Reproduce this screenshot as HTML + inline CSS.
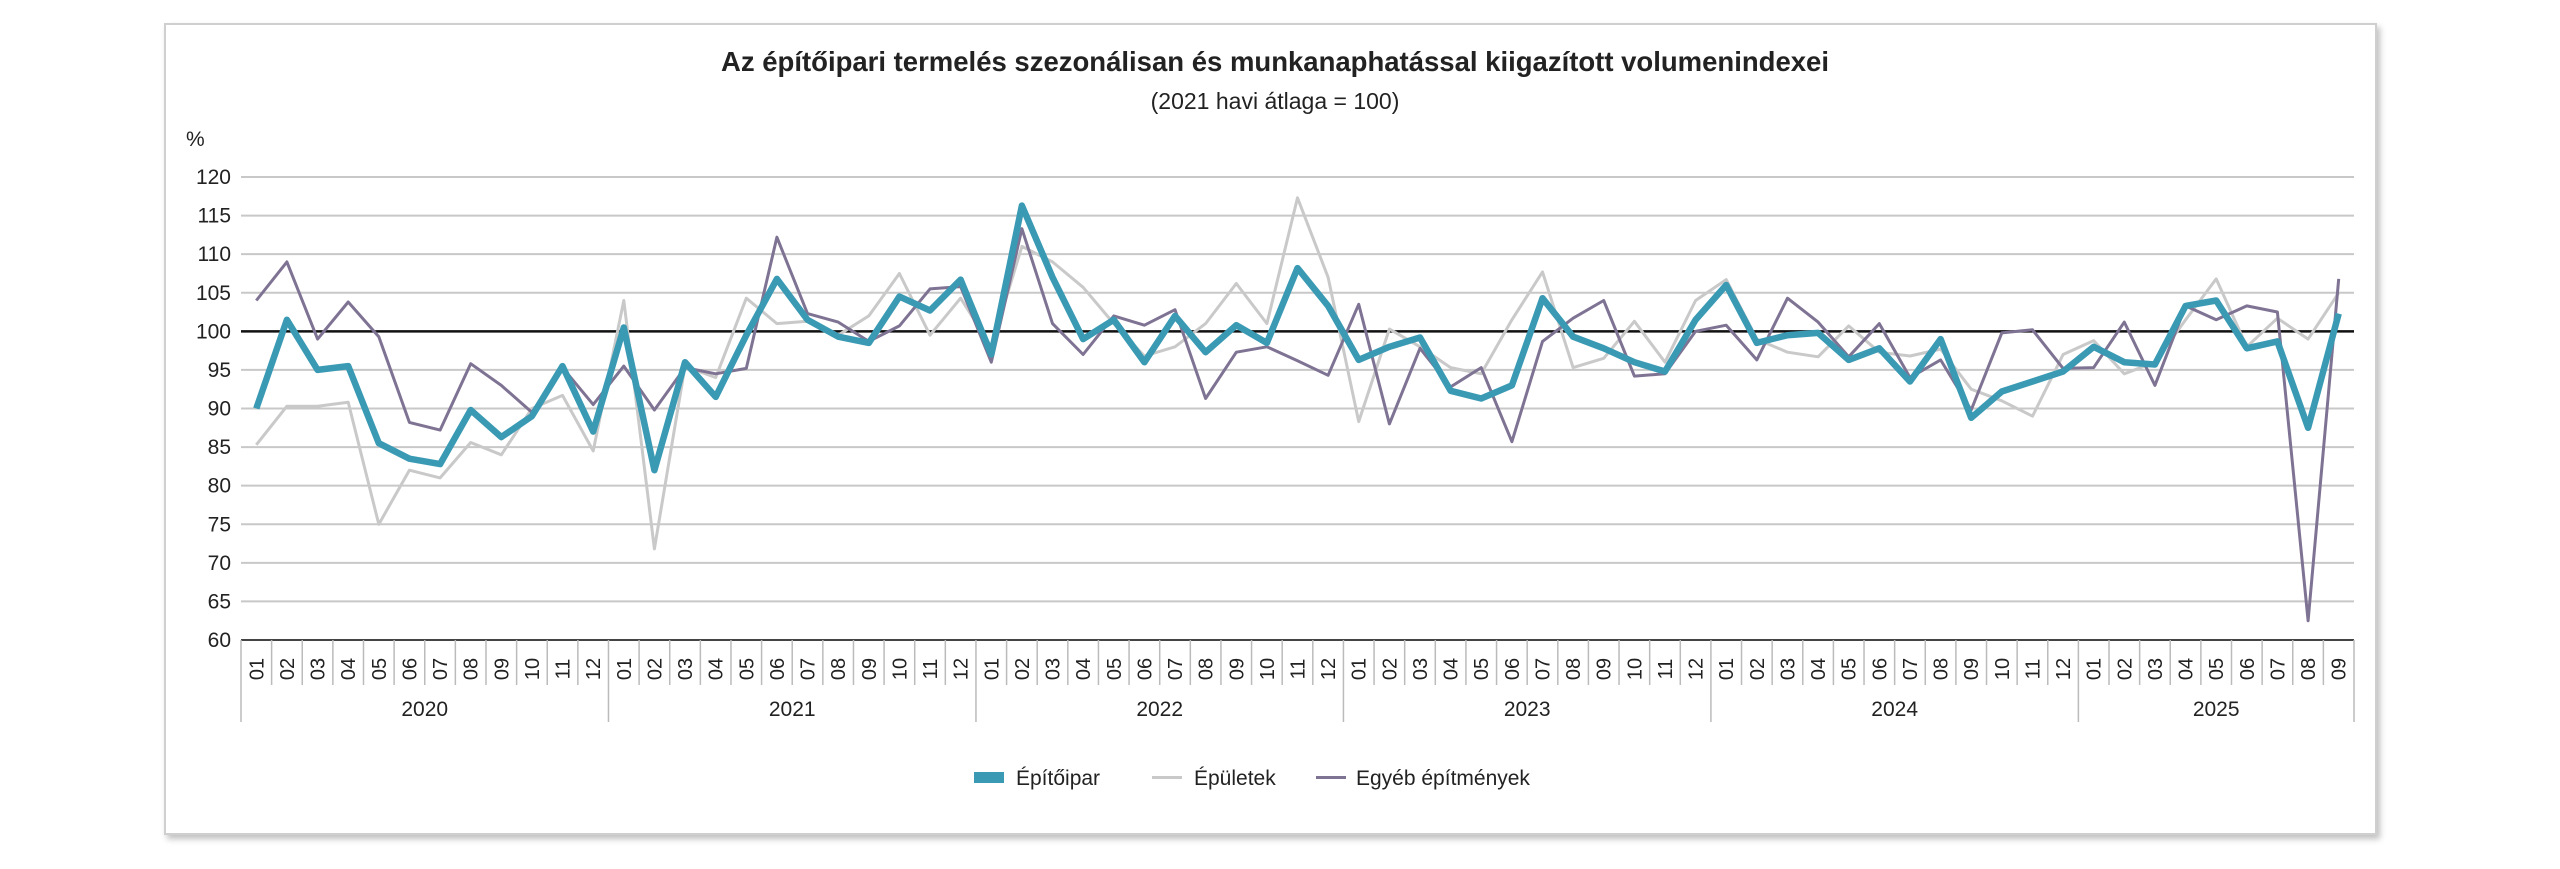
<!DOCTYPE html>
<html><head><meta charset="utf-8"><style>
html,body{margin:0;padding:0;background:#fff;}
body{width:2560px;height:869px;overflow:hidden;position:relative;font-family:"Liberation Sans",sans-serif;}
#frame{position:absolute;left:164px;top:23px;width:2209px;height:808px;border:2px solid #cfcfcf;box-shadow:3px 4px 6px rgba(0,0,0,0.25);background:#fff;}
svg{position:absolute;left:0;top:0;}
</style></head><body>
<div id="frame"></div>
<svg id="s" width="2560" height="869" xmlns="http://www.w3.org/2000/svg" font-family="Liberation Sans, sans-serif"></svg>
<script>
const A=[90,101.5,95,95.5,85.5,83.5,82.8,89.8,86.3,89,95.5,87,
100.5,82,96,91.5,99.5,106.8,101.5,99.3,98.5,104.5,102.7,106.7,
97,116.3,107,99,101.5,96,102,97.3,100.8,98.5,108.2,103.3,
96.3,98,99.2,92.3,91.3,93,104.3,99.3,97.8,96,94.8,101.5,
106,98.5,99.5,99.8,96.3,97.8,93.5,99,88.8,92.2,93.5,94.8,
98,96,95.7,103.3,104,97.8,98.7,87.5,102.3];
const B=[85.3,90.3,90.3,90.8,75,82,81,85.6,84,90,91.7,84.5,
104,71.8,95.5,94,104.3,101,101.3,99.5,102,107.5,99.5,104.3,
98,111,109,105.7,101,96.8,98,101,106.2,101,117.3,107,
88.3,100.3,98,95.3,94.5,101.5,107.7,95.3,96.5,101.3,96,104,
106.7,99,97.3,96.7,100.7,97.3,96.8,97.7,92.5,91,89,97,
98.8,94.5,96,101.5,106.8,98,101.7,99,105];
const C=[104,109,99,103.8,99.3,88.2,87.2,95.8,93,89.5,95.3,90.5,
95.5,89.8,95.3,94.5,95.2,112.2,102.3,101.2,98.7,100.7,105.5,105.8,
96,113.3,101,97,102,100.8,102.8,91.3,97.3,98,96.2,94.3,
103.5,88,97.8,92.8,95.3,85.7,98.7,101.7,104,94.2,94.5,100,
100.8,96.3,104.3,101.2,96.7,101,94,96.3,89.8,99.8,100.2,95.2,
95.3,101.2,93,103.3,101.5,103.3,102.5,62.5,106.8];
const L=241,R=2354,T=177,Bt=640,N=69,cw=(R-L)/N;
const y=v=>Bt-(v-60)*(Bt-T)/60, x=i=>L+cw*(i+0.5);
let h='';
h+='<text x="1275" y="71" text-anchor="middle" font-size="27.5" font-weight="bold" fill="#222">Az építőipari termelés szezonálisan és munkanaphatással kiigazított volumenindexei</text>';
h+='<text x="1275" y="109" text-anchor="middle" font-size="23" fill="#222">(2021 havi átlaga = 100)</text>';
h+='<text x="186" y="146" font-size="21" fill="#222">%</text>';
for(let v=60;v<=120;v+=5){
 if(v!=60&&v!=100)h+=`<line x1="${L}" x2="${R}" y1="${y(v)}" y2="${y(v)}" stroke="#c8c8c8" stroke-width="2"/>`;
 h+=`<text x="${L-10}" y="${y(v)+7}" text-anchor="end" font-size="21" fill="#222">${v}</text>`;
}
h+=`<line x1="${L}" x2="${R}" y1="${y(100)}" y2="${y(100)}" stroke="#111" stroke-width="2.5"/>`;
h+=`<line x1="${L}" x2="${R}" y1="${Bt}" y2="${Bt}" stroke="#444" stroke-width="2"/>`;
for(let i=0;i<=N;i++){const xx=L+cw*i;const yr=(i%12==0||i==N);
 h+=`<line x1="${xx}" x2="${xx}" y1="${Bt}" y2="${yr?722:685}" stroke="#bbb" stroke-width="1.5"/>`;}
for(let i=0;i<N;i++){const m=String(i%12+1).padStart(2,'0');
 h+=`<text transform="translate(${x(i)+7},${669}) rotate(-90)" text-anchor="middle" font-size="20" fill="#222">${m}</text>`;}
for(let k=0;k<6;k++){const a=k*12,b=Math.min(a+12,N);const cx=L+cw*(a+b)/2;
 h+=`<text x="${cx}" y="716" text-anchor="middle" font-size="21" fill="#222">${2020+k}</text>`;}
const pl=(d,c,w)=>`<polyline fill="none" stroke="${c}" stroke-width="${w}" stroke-linejoin="round" points="${d.map((v,i)=>x(i).toFixed(1)+','+y(v).toFixed(1)).join(' ')}"/>`;
h+=pl(B,'#c9c9c9',3)+pl(C,'#7f7394',3)+pl(A,'#3a9ab4',6.5);
h+='<rect x="974" y="772" width="30" height="11" fill="#3a9ab4"/><text x="1016" y="785" font-size="21" fill="#222">Építőipar</text>';
h+='<rect x="1152" y="776" width="30" height="3" fill="#c9c9c9"/><text x="1194" y="785" font-size="21" fill="#222">Épületek</text>';
h+='<rect x="1316" y="776" width="30" height="3" fill="#7f7394"/><text x="1356" y="785" font-size="21" fill="#222">Egyéb építmények</text>';
document.getElementById('s').innerHTML=h;
</script>
</body></html>
